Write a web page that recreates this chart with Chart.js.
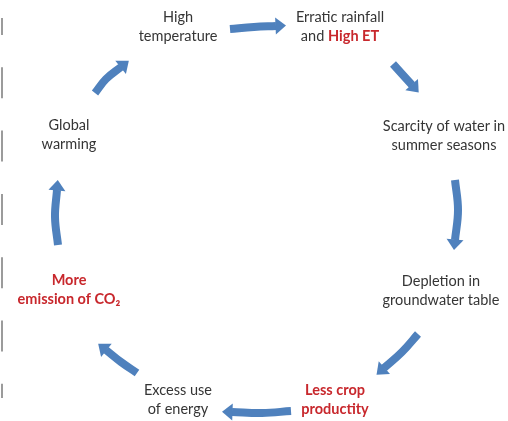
<!DOCTYPE html>
<html>
<head>
<meta charset="utf-8">
<script src="https://cdn.jsdelivr.net/npm/chart.js@4.4.1/dist/chart.umd.min.js"></script>
<style>
  html, body { margin: 0; padding: 0; background: #ffffff; }
  canvas { display: block; }
</style>
</head>
<body>
<canvas id="cycle" width="508" height="421"></canvas>
<script>
// Steps of the cycle; text inside [ ] is the red highlight
const stepLines = [
    ['High', 'temperature'],
    ['Erratic rainfall', 'and [High ET]'],
    ['Scarcity of water in', 'summer seasons'],
    ['Depletion in', 'groundwater table'],
    ['[Less crop]', '[productity]'],
    ['Excess use', 'of energy'],
    ['[More]', '[emission of CO₂]'],
    ['Global', 'warming']
];
const stepX = [178, 340, 444, 441, 335, 178, 69, 69];
const stepY = [27, 27, 136, 291, 400, 400, 290, 135];

// One arrow from each step to the next (shaft points, head is added at the end)
const arrowX = [
    [230, 254, 276],
    [393, 402, 412],
    [455, 458, 455],
    [418, 402, 384],
    [291, 262, 232],
    [137, 121, 106],
    [58, 55, 57],
    [95, 106, 121]
];
const arrowY = [
    [29, 27, 26],
    [64, 74, 85],
    [180, 210, 240],
    [334, 352, 368],
    [411, 413, 412],
    [373, 362, 350],
    [245, 217, 190],
    [93, 79, 67]
];

const ARROW_COLOR = '#4f81bd';
const TEXT_COLOR = '#353535';
const RED_COLOR = '#c8282d';
const FONT_FAMILY = 'Lato, "Open Sans", sans-serif';
const FONT_SIZE = 14.5;

//arrow heads at the end of each shaft
const arrowHeads = {
    id: 'arrowHeads',
    afterDatasetsDraw(chart)
    {
        const ctx = chart.ctx;
        chart.data.datasets.forEach((ds, i) =>
        {
            const pts = chart.getDatasetMeta(i).data;
            const last = pts[pts.length - 1];
            const prev = pts[pts.length - 2];
            let dx = last.x - prev.x;
            let dy = last.y - prev.y;
            const len = Math.hypot(dx, dy);
            dx /= len; dy /= len;
            const half = 8.5, headLen = 10;
            const bx = last.x - dx * 0.5, by = last.y - dy * 0.5;
            ctx.save();
            ctx.fillStyle = ARROW_COLOR;
            ctx.beginPath();
            ctx.moveTo(bx - dy * half, by + dx * half);
            ctx.lineTo(last.x + dx * headLen, last.y + dy * headLen);
            ctx.lineTo(bx + dy * half, by - dx * half);
            ctx.closePath();
            ctx.fill();
            ctx.restore();
        });
    }
};

//step labels, drawn with the chart scales
const stepText = {
    id: 'stepText',
    afterDatasetsDraw(chart)
    {
        const ctx = chart.ctx;
        const xs = chart.scales.x, ys = chart.scales.y;
        const lineGap = 19;
        ctx.save();
        ctx.textBaseline = 'middle';
        ctx.textAlign = 'left';
        stepLines.forEach((lines, i) =>
        {
            const cx = xs.getPixelForValue(stepX[i]);
            const cy = ys.getPixelForValue(stepY[i]);
            lines.forEach((line, j) =>
            {
                const runs = [];
                line.split(/(\[[^\]]*\])/).forEach(part =>
                {
                    if (!part) return;
                    if (part.startsWith('['))
                        runs.push({ text: part.slice(1, -1), red: true });
                    else
                        runs.push({ text: part, red: false });
                });
                let total = 0;
                runs.forEach(r =>
                {
                    ctx.font = (r.red ? 'bold ' : '') + FONT_SIZE + 'px ' + FONT_FAMILY;
                    r.w = ctx.measureText(r.text).width;
                    total += r.w;
                });
                let x = cx - total / 2;
                const y = cy + (j - (lines.length - 1) / 2) * lineGap;
                runs.forEach(r =>
                {
                    ctx.font = (r.red ? 'bold ' : '') + FONT_SIZE + 'px ' + FONT_FAMILY;
                    ctx.fillStyle = r.red ? RED_COLOR : TEXT_COLOR;
                    ctx.fillText(r.text, x, y);
                    x += r.w;
                });
            });
        });
        ctx.restore();
    }
};

//dashed bracket on the left edge
const bracket = {
    id: 'bracket',
    beforeDatasetsDraw(chart)
    {
        const ctx = chart.ctx;
        const xs = chart.scales.x, ys = chart.scales.y;
        const x = xs.getPixelForValue(2);
        ctx.save();
        ctx.strokeStyle = '#9b9b9b';
        ctx.lineWidth = 2;
        ctx.setLineDash([31, 32.3]);
        ctx.lineDashOffset = 14;
        ctx.beginPath();
        ctx.moveTo(x, ys.getPixelForValue(18));
        ctx.lineTo(x, ys.getPixelForValue(398));
        ctx.stroke();
        ctx.restore();
    }
};

const datasets = arrowX.map((xs, i) => ({
    data: xs.map((x, k) => ({ x: x, y: arrowY[i][k] })),
    borderColor: ARROW_COLOR,
    borderWidth: 8,
    borderCapStyle: 'butt',
    tension: 0.4,
    pointRadius: 0,
    clip: false
}));

new Chart(document.getElementById('cycle'),
    {
        type: 'line',
        data: { datasets: datasets },
        options:
            {
                responsive: false,
                animation: false,
                devicePixelRatio: 1,
                layout: { padding: 0 },
                elements: { line: { capBezierPoints: false } },
                plugins:
                    {
                        legend: { display: false },
                        tooltip: { enabled: false }
                    },
                scales:
                    {
                        x: { type: 'linear', min: 0, max: 508, display: false },
                        y: { type: 'linear', min: 0, max: 421, reverse: true, display: false }
                    }
            },
        plugins: [bracket, arrowHeads, stepText]
    });
</script>
</body>
</html>
